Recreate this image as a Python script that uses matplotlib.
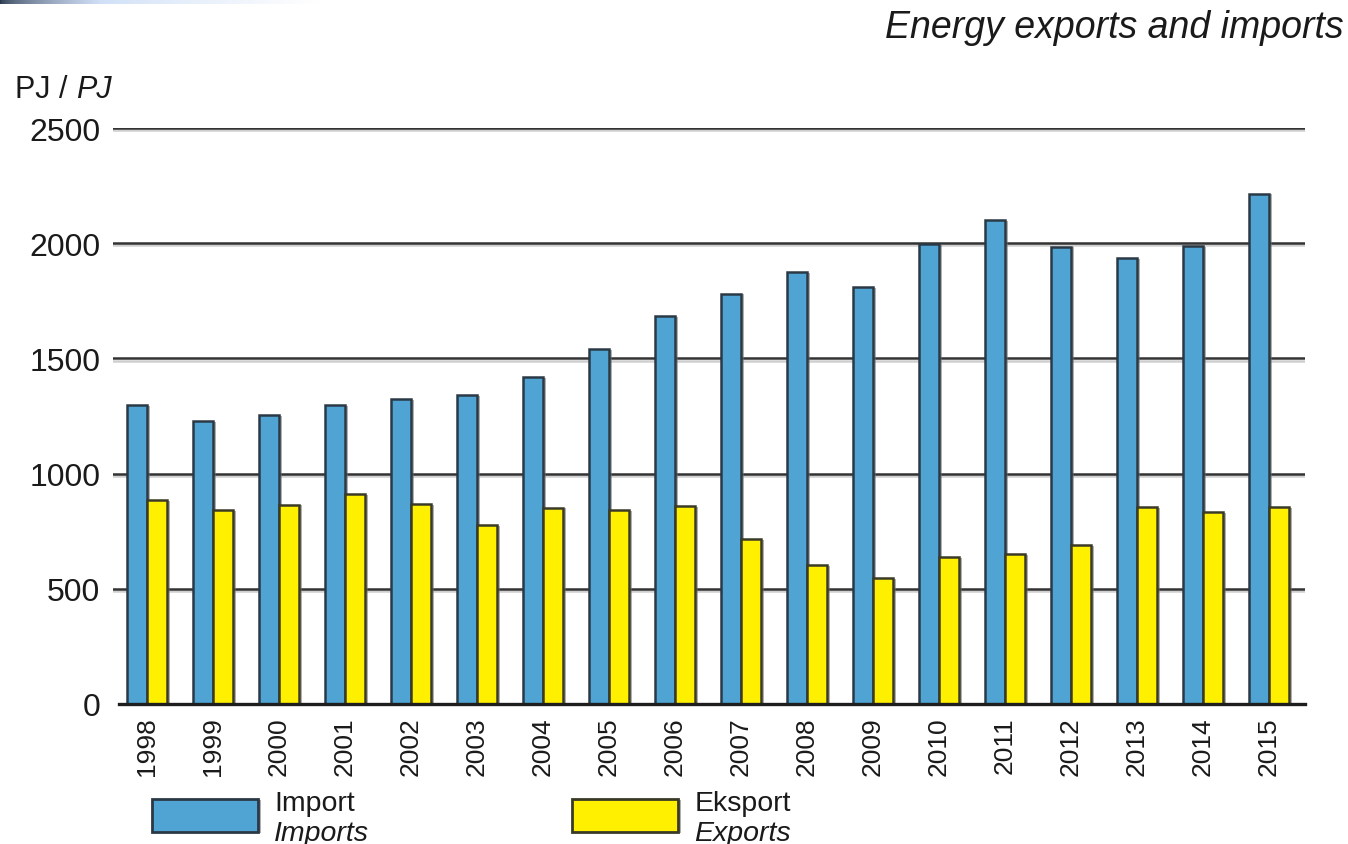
"""Energy imports and exports, 1998-2015 (PJ)."""

import numpy as np
import matplotlib
matplotlib.use("Agg")
import matplotlib.pyplot as plt
import matplotlib.patheffects as pe
from matplotlib.patches import Rectangle

plt.rcParams["font.family"] = ["Liberation Sans", "DejaVu Sans"]

YEARS = ["1998", "1999", "2000", "2001", "2002", "2003", "2004", "2005", "2006",
         "2007", "2008", "2009", "2010", "2011", "2012", "2013", "2014", "2015"]
IMPORTS = [1298, 1228, 1254, 1298, 1324, 1341, 1419, 1541, 1684,
           1780, 1875, 1810, 1997, 2101, 1984, 1936, 1988, 2214]
EXPORTS = [885, 842, 864, 911, 868, 777, 851, 842, 859,
           716, 603, 547, 638, 651, 690, 855, 833, 855]
Y_TICKS = [0, 500, 1000, 1500, 2000, 2500]

BLUE = "#4fa4d3"
YELLOW = "#fff000"
EDGE_BLUE = "#2a3945"
EDGE_YELLOW = "#3b3a26"
INK = "#1a1a1a"

bar_shadow = [pe.SimplePatchShadow(offset=(2.2, -0.4), shadow_rgbFace="#6f6f6f", alpha=0.55),
              pe.Normal()]
line_shadow = [pe.SimpleLineShadow(offset=(0, -1.6), shadow_color="#b0b0b0", alpha=0.6),
               pe.Normal()]


def main():
    fig = plt.figure(figsize=(13.48, 8.45), dpi=100)
    ax = fig.add_axes([0.0838, 0.1657, 0.968 - 0.0838, 0.8473 - 0.1657])

    x = np.arange(len(YEARS))
    w = 0.30
    ax.bar(x - w / 2, IMPORTS, w, color=BLUE, edgecolor=EDGE_BLUE, linewidth=1.8,
           zorder=3, path_effects=bar_shadow)
    ax.bar(x + w / 2, EXPORTS, w, color=YELLOW, edgecolor=EDGE_YELLOW, linewidth=1.8,
           zorder=3, path_effects=bar_shadow)

    for v in Y_TICKS[1:]:
        ax.axhline(v, color="#333333", lw=1.8, zorder=1, path_effects=line_shadow)

    ax.set_xlim(-0.515, len(YEARS) - 0.455)
    ax.set_ylim(0, 2500)
    ax.set_yticks(Y_TICKS)
    ax.set_yticklabels([str(v) for v in Y_TICKS], fontsize=23, color=INK)
    ax.set_xticks(x)
    ax.set_xticklabels(YEARS, rotation=90, fontsize=19, color=INK)
    ax.tick_params(axis="both", length=0)
    ax.tick_params(axis="y", pad=9)
    ax.tick_params(axis="x", pad=9)

    for side in ["left", "right", "top"]:
        ax.spines[side].set_visible(False)
    ax.spines["bottom"].set_linewidth(2.4)
    ax.spines["bottom"].set_color("#1e1e1e")
    ax.spines["bottom"].set_bounds(-0.43, len(YEARS) - 0.455)
    ax.spines["bottom"].set_zorder(4)

    # titles
    fig.text(0.997, 0.955, "Energy exports and imports", ha="right", va="baseline",
             fontsize=27, style="italic", color=INK)
    unit = fig.text(0.011, 0.884, "PJ / ", ha="left", va="baseline",
                    fontsize=22, color=INK)
    ax.annotate("PJ", xy=(1, 0), xycoords=unit, ha="left", va="bottom",
                fontsize=22, style="italic", color=INK)

    # legend
    items = [(0.113, BLUE, EDGE_BLUE, "Import", "Imports"),
             (0.4245, YELLOW, EDGE_YELLOW, "Eksport", "Exports")]
    for x0, face, edge, local, english in items:
        box = Rectangle((x0, 1 - 833 / 845), 106 / 1348, 33 / 845,
                        transform=fig.transFigure, facecolor=face, edgecolor=edge,
                        linewidth=2.0, path_effects=bar_shadow)
        fig.patches.append(box)
        tx = x0 + 122 / 1348
        fig.text(tx, 1 - 811 / 845, local, fontsize=20.5, color=INK,
                 ha="left", va="baseline")
        fig.text(tx, 1 - 841 / 845, english, fontsize=20.5, style="italic",
                 color=INK, ha="left", va="baseline")

    # faded strip along the top-left edge
    strip = fig.add_axes([0, 1 - 5 / 845, 320 / 1348, 5 / 845])
    fade = np.linspace(0, 1, 256) ** 0.6
    c0 = np.array([0.16, 0.22, 0.30])
    c1 = np.array([0.82, 0.88, 0.97])
    c2 = np.array([1.0, 1.0, 1.0])
    rgb = np.where(fade[:, None] < 0.5,
                   c0 + (c1 - c0) * (fade[:, None] / 0.5),
                   c1 + (c2 - c1) * ((fade[:, None] - 0.5) / 0.5))
    strip.imshow(rgb[None, :, :], aspect="auto", extent=(0, 1, 0, 1))
    strip.axis("off")

    fig.savefig("out.png", dpi=100)


if __name__ == "__main__":
    main()
